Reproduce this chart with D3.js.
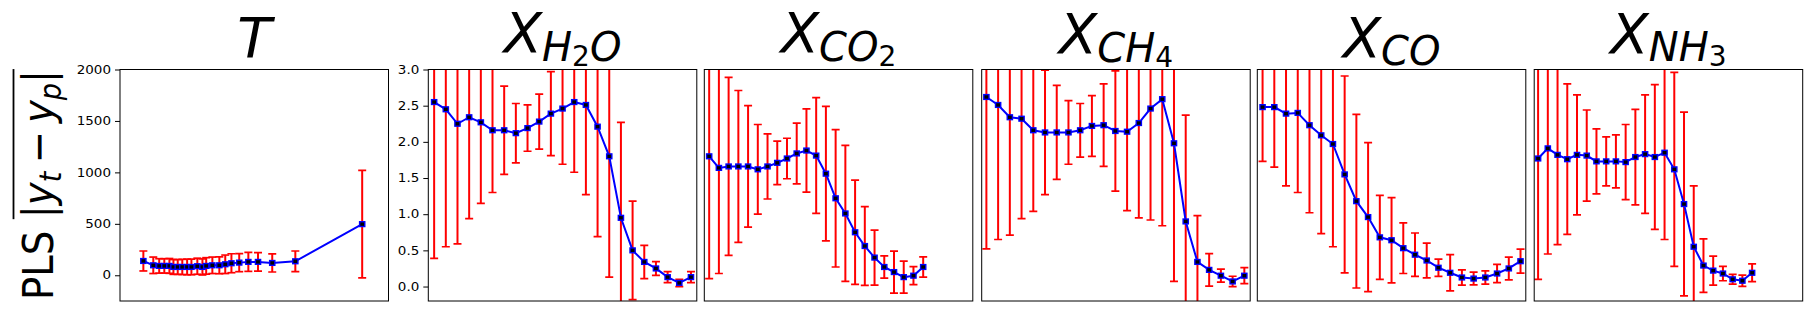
<!DOCTYPE html>
<html>
<head>
<meta charset="utf-8">
<script src="https://cdn.jsdelivr.net/npm/d3@7"></script>
<style>
  body { margin: 0; background: #fff; }
  svg { display: block; font-family: "DejaVu Sans", sans-serif; }
</style>
</head>
<body>
<div id="chart"></div>
<script>
// x positions: T panel uses bin centres (0-100 scale), the species panels use bin index
const tX = [8.7, 12.4, 14.6, 16.5, 18.4, 19.9, 21.5, 23.2, 25.0, 26.6, 28.8, 30.7, 32.1,
            34.4, 37.0, 39.2, 41.5, 44.4, 47.8, 51.4, 56.7, 65.3, 90.2];
const binIdx = [0, 1, 2, 3, 4, 5, 6, 7, 8, 9, 10, 11, 12, 13, 14, 15, 16, 17, 18, 19, 20, 21, 22];

// mean |y_t - y_p| and its spread, per panel
const tMean = [139, 97, 91, 91, 91, 81, 81, 81, 81, 81, 88, 81, 91, 97, 97, 107, 117, 123, 130, 130, 120, 136, 497];
const tErr  = [97, 80, 70, 70, 72, 72, 72, 74, 76, 76, 78, 78, 80, 80, 82, 90, 92, 88, 92, 90, 88, 100, 523];

const h2oMean = [2.55, 2.45, 2.25, 2.34, 2.27, 2.16, 2.16, 2.12, 2.19, 2.28, 2.39, 2.46, 2.55, 2.51, 2.21, 1.80, 0.95, 0.50, 0.34, 0.25, 0.13, 0.05, 0.13];
const h2oErr  = [2.16, 1.90, 1.66, 1.40, 1.12, 0.86, 0.61, 0.41, 0.32, 0.38, 0.58, 0.77, 0.97, 1.24, 1.52, 1.67, 1.32, 0.68, 0.23, 0.095, 0.075, 0.05, 0.075];

const co2Mean = [1.80, 1.64, 1.66, 1.66, 1.66, 1.62, 1.66, 1.71, 1.77, 1.84, 1.88, 1.81, 1.56, 1.22, 1.01, 0.75, 0.56, 0.40, 0.27, 0.20, 0.13, 0.15, 0.27];
const co2Err  = [1.69, 1.46, 1.23, 1.05, 0.84, 0.62, 0.45, 0.30, 0.28, 0.42, 0.575, 0.80, 0.93, 0.95, 0.94, 0.72, 0.545, 0.38, 0.155, 0.29, 0.22, 0.125, 0.14];

const ch4Mean = [2.62, 2.51, 2.34, 2.32, 2.16, 2.13, 2.13, 2.13, 2.16, 2.22, 2.23, 2.15, 2.14, 2.26, 2.46, 2.59, 1.98, 0.90, 0.34, 0.23, 0.15, 0.07, 0.15];
const ch4Err  = [2.10, 1.86, 1.63, 1.38, 1.12, 0.86, 0.65, 0.44, 0.37, 0.42, 0.57, 0.83, 1.09, 1.31, 1.54, 1.75, 1.91, 1.47, 0.64, 0.225, 0.09, 0.072, 0.11];

const coMean = [2.48, 2.48, 2.39, 2.40, 2.23, 2.09, 1.97, 1.55, 1.18, 0.96, 0.68, 0.64, 0.53, 0.44, 0.36, 0.26, 0.19, 0.125, 0.11, 0.125, 0.18, 0.25, 0.35];
const coErr  = [0.75, 0.83, 1.00, 1.10, 1.21, 1.36, 1.42, 1.36, 1.20, 1.03, 0.58, 0.59, 0.35, 0.30, 0.24, 0.12, 0.25, 0.106, 0.088, 0.092, 0.125, 0.157, 0.166];

const nh3Mean = [1.77, 1.91, 1.82, 1.76, 1.82, 1.81, 1.73, 1.73, 1.73, 1.72, 1.79, 1.83, 1.79, 1.85, 1.62, 1.14, 0.55, 0.29, 0.22, 0.18, 0.10, 0.08, 0.19];
const nh3Err  = [1.67, 1.46, 1.24, 1.04, 0.83, 0.63, 0.45, 0.34, 0.365, 0.52, 0.66, 0.82, 1.00, 1.20, 1.34, 1.27, 0.84, 0.37, 0.20, 0.10, 0.067, 0.078, 0.123];

// tick labels
const tTicks = [0, 500, 1000, 1500, 2000];
const xTicks = [0.0, 0.5, 1.0, 1.5, 2.0, 2.5, 3.0];

// titles: [text, subscript level]
const titles = [
  [["T", 0]],
  [["X", 0], ["H", 1], ["2", 2], ["O", 1]],
  [["X", 0], ["CO", 1], ["2", 2]],
  [["X", 0], ["CH", 1], ["4", 2]],
  [["X", 0], ["CO", 1]],
  [["X", 0], ["NH", 1], ["3", 2]]
];

const panels = [
  {x: tX,     m: tMean,   e: tErr,   xd: [0, 100],       yd: [-250, 2000], ticks: tTicks, fmt: d3.format("d"),   tb: 57},
  {x: binIdx, m: h2oMean, e: h2oErr, xd: [-0.5, 22.5],   yd: [-0.2, 3.0],  ticks: xTicks, fmt: d3.format(".1f"), tb: 52},
  {x: binIdx, m: co2Mean, e: co2Err, xd: [-0.5, 27.1],   yd: [-0.2, 3.0],  ticks: null,   tb: 52},
  {x: binIdx, m: ch4Mean, e: ch4Err, xd: [-0.4, 22.5],   yd: [-0.2, 3.0],  ticks: null,   tb: 53},
  {x: binIdx, m: coMean,  e: coErr,  xd: [-0.45, 22.45], yd: [-0.2, 3.0],  ticks: null,   tb: 56.5},
  {x: binIdx, m: nh3Mean, e: nh3Err, xd: [-0.4, 27.2],   yd: [-0.2, 3.0],  ticks: null,   tb: 52.5}
];

const width = 1811, height = 311;
const axTop = 69.5, axBottom = 301;
const lefts = [120, 428.3, 704.3, 981.7, 1257.3, 1534.2];
const pw = 268.5, ph = axBottom - axTop;

const svg = d3.select("#chart").append("svg")
    .attr("width", width)
    .attr("height", height);

panels.forEach((p, i) => {
    const g = svg.append("g").attr("transform", `translate(${lefts[i]},${axTop})`);
    const x = d3.scaleLinear().domain(p.xd).range([0, pw]);
    const y = d3.scaleLinear().domain(p.yd).range([ph, 0]);
    const pts = p.m.map((m, k) => ({x: p.x[k], m: m, lo: m - p.e[k], hi: m + p.e[k]}));

    g.append("clipPath").attr("id", "clip" + i)
      .append("rect").attr("width", pw).attr("height", ph);

    const plot = g.append("g").attr("clip-path", `url(#clip${i})`);

    // error bars with caps
    const bars = plot.append("g").attr("stroke", "#ff0000");
    bars.selectAll(".bar").data(pts).join("line")
        .attr("x1", d => x(d.x)).attr("x2", d => x(d.x))
        .attr("y1", d => y(d.lo)).attr("y2", d => y(d.hi))
        .attr("stroke-width", 2);
    ["lo", "hi"].forEach(k => {
        bars.selectAll(".cap-" + k).data(pts).join("line")
            .attr("x1", d => x(d.x) - 4).attr("x2", d => x(d.x) + 4)
            .attr("y1", d => y(d[k])).attr("y2", d => y(d[k]))
            .attr("stroke-width", 1.7);
    });

    plot.append("path")
        .datum(pts)
        .attr("fill", "none")
        .attr("stroke", "#0000ff")
        .attr("stroke-width", 2)
        .attr("d", d3.line().x(d => x(d.x)).y(d => y(d.m)));

    plot.selectAll(".mk").data(pts).join("rect")
        .attr("x", d => x(d.x) - 2.6)
        .attr("y", d => y(d.m) - 2.4)
        .attr("width", 5.2)
        .attr("height", 4.8)
        .attr("fill", "#000")
        .attr("stroke", "#0000ff")
        .attr("stroke-width", 1.4);

    g.append("rect")
        .attr("width", pw).attr("height", ph)
        .attr("fill", "none").attr("stroke", "#000").attr("stroke-width", 1);

    if (p.ticks) {
        const ax = g.append("g")
            .call(d3.axisLeft(y).tickValues(p.ticks).tickFormat(p.fmt).tickSize(5).tickPadding(4));
        ax.select(".domain").remove();
        ax.selectAll("line").attr("stroke", "#000");
        ax.selectAll("text")
            .attr("font-family", "DejaVu Sans")
            .attr("font-size", 13.5)
            .attr("fill", "#000")
            .attr("transform", "scale(1,0.85)");
    }

    // title with mathtext-like subscripts
    const sizes = [56, 40, 28], shifts = [0, 8.5, 13.5];
    const t = svg.append("text")
        .attr("x", lefts[i] + pw / 2)
        .attr("y", p.tb)
        .attr("text-anchor", "middle")
        .attr("fill", "#000");
    let level = 0;
    titles[i].forEach(([s, lv]) => {
        t.append("tspan")
            .attr("font-size", sizes[lv])
            .attr("font-style", /[0-9]/.test(s) ? "normal" : "italic")
            .attr("dy", shifts[lv] - shifts[level])
            .text(s);
        level = lv;
    });
});

// y label: PLS |y_t - y_p| with an overline on the math part
const fs = 43;
const lg = svg.append("g").attr("transform", "translate(52.5,185) rotate(-90) scale(0.9,1)");
const inner = lg.append("g");
const pls = inner.append("text").attr("font-size", fs).attr("fill", "#000").text("PLS");
const plsLen = pls.node().getComputedTextLength();
const gap = 0.318 * fs;
const mt = inner.append("text").attr("font-size", fs).attr("fill", "#000").attr("x", plsLen + gap);
mt.append("tspan").text("|");
mt.append("tspan").attr("font-style", "italic").text("y");
mt.append("tspan").attr("font-style", "italic").attr("font-size", fs * 0.7).attr("dy", 8).text("t");
mt.append("tspan").attr("dy", -8).attr("dx", 9).text("\u2212");
mt.append("tspan").attr("font-style", "italic").attr("dx", 9).text("y");
mt.append("tspan").attr("font-style", "italic").attr("font-size", fs * 0.7).attr("dy", 8).text("p");
mt.append("tspan").attr("dy", -8).text("|");
const mathLen = mt.node().getComputedTextLength() + 18;
const total = plsLen + gap + mathLen;
inner.attr("transform", `translate(${-total / 2},0)`);
inner.append("line")
    .attr("x1", plsLen + gap - 1).attr("x2", total + 1)
    .attr("y1", -39).attr("y2", -39)
    .attr("stroke", "#000").attr("stroke-width", 1.8);
</script>
</body>
</html>
